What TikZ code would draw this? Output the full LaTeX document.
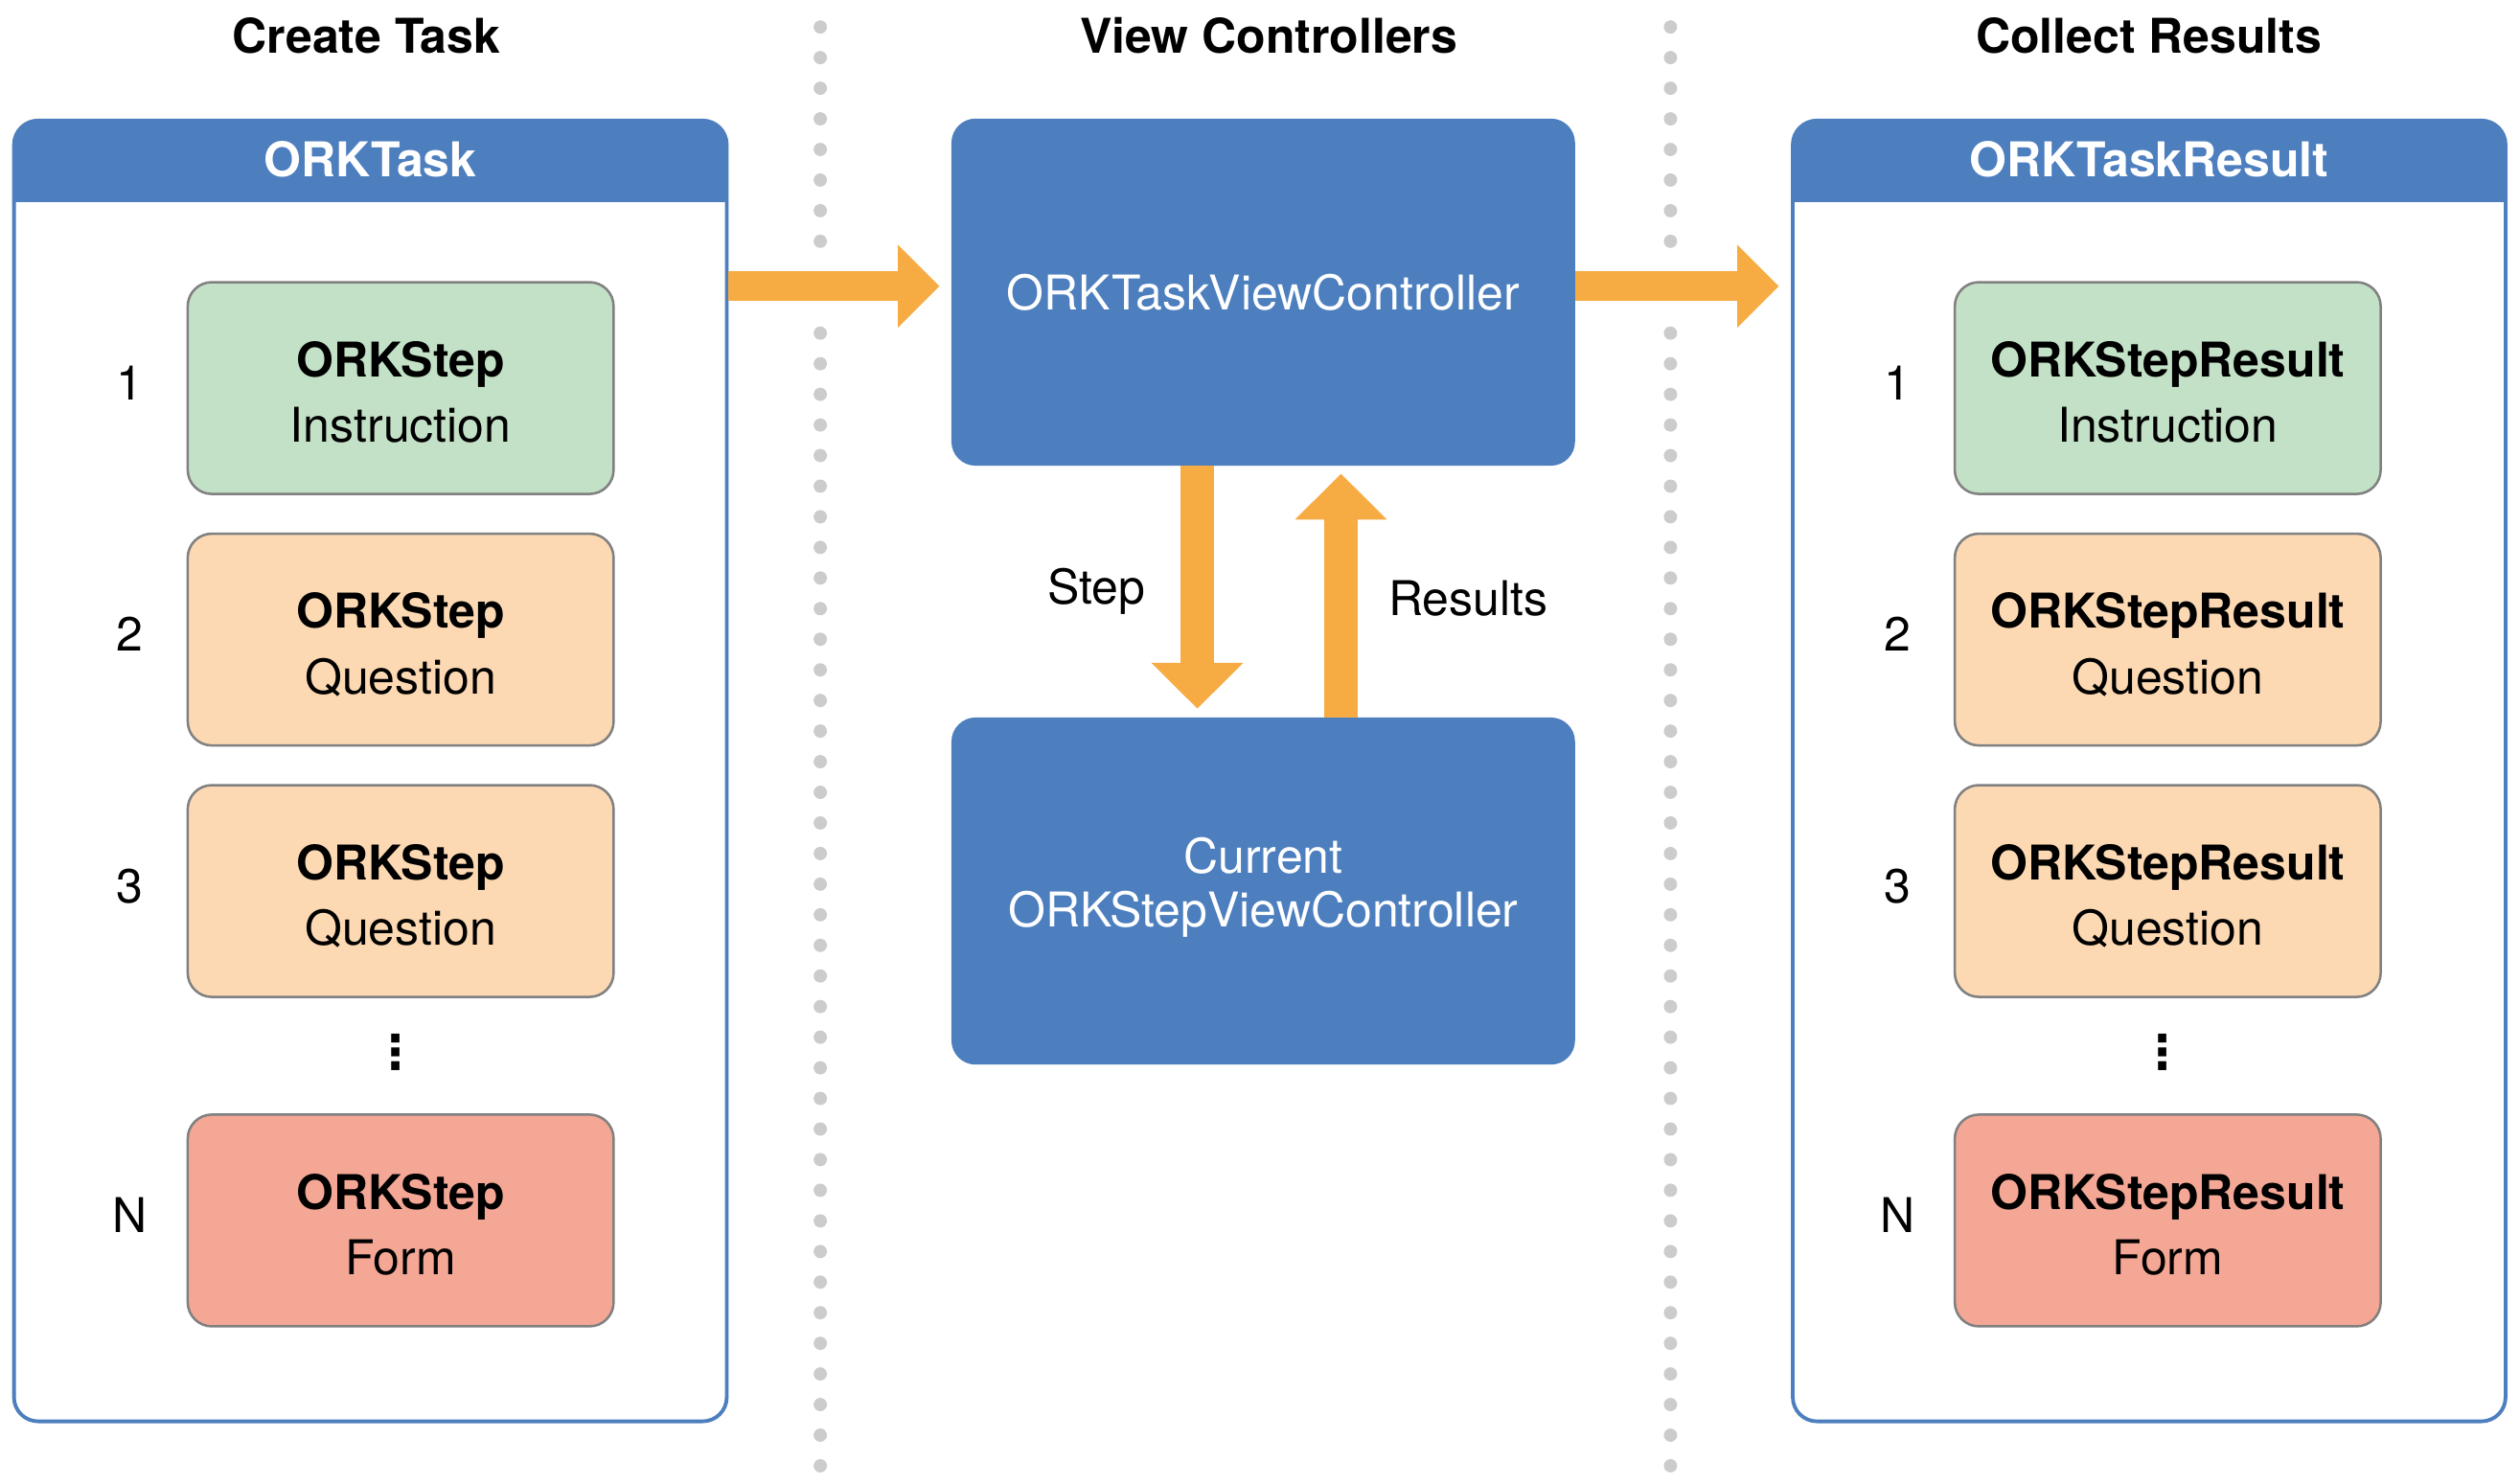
\documentclass[tikz,border=0pt]{standalone}
\usepackage{fontspec}
\setmainfont{TeX Gyre Heros}
\newfontfamily\dejavu{DejaVu Sans}
\usetikzlibrary{arrows.meta,calc}
\definecolor{pblue}{RGB}{77,127,191}
\definecolor{aorange}{RGB}{247,171,67}
\definecolor{sgreen}{RGB}{195,225,199}
\definecolor{speach}{RGB}{252,217,179}
\definecolor{ssalmon}{RGB}{244,167,149}
\definecolor{bgray}{RGB}{128,128,128}
\definecolor{dgray}{RGB}{204,204,204}
\begin{document}
\begin{tikzpicture}[x=1pt,y=-1pt,
  every node/.style={outer sep=0pt, inner sep=0pt},
  panel/.style={draw=pblue, line width=2.3pt, rounded corners=15pt, minimum width=443.5pt, minimum height=809.5pt},
  stepbox/.style={draw=bgray, line width=1.5pt, rounded corners=15pt, minimum width=265pt, minimum height=131.8pt},
  vcbox/.style={fill=pblue, rounded corners=15pt, minimum width=388pt, minimum height=216pt},
  txt/.style={font=\fontsize{29.8}{35}\selectfont, anchor=base},
  btxt/.style={font=\fontsize{29.8}{35}\selectfont\bfseries, anchor=base},
  wtxt/.style={txt, text=white},
  wbtxt/.style={btxt, text=white},
  fatarrow/.style={draw=aorange, line width=18.2pt, -{Triangle[length=25.8pt,width=51.7pt,line width=0pt]}},
  vfatarrow/.style={draw=aorange, line width=20.4pt, -{Triangle[length=28.4pt,width=57.2pt,line width=0pt]}},
  vdots/.style={font=\dejavu\bfseries\fontsize{29.3}{35}\selectfont, anchor=center},
]
\path[fill=white, use as bounding box] (0,0) rectangle (1568,923.5);

% dotted separators
\foreach \k in {0,...,7} {
  \fill[dgray] (510.4,{16.8+19.05*\k}) circle (4.15);
  \fill[dgray] (1039.4,{16.8+19.05*\k}) circle (4.15);
}
\foreach \k in {10,...,47} {
  \fill[dgray] (510.4,{16.8+19.05*\k}) circle (4.15);
  \fill[dgray] (1039.4,{16.8+19.05*\k}) circle (4.15);
}

% column titles
\node[btxt] (t1) at (228,33.3) {Create Task};
\node[btxt] (t2) at (789.5,33.3) {View Controllers};
\node[btxt] (t3) at (1337,33.3) {Collect Results};

\coordinate (hb) at (0,125.8);
\coordinate (ay) at (0,178.1);
\coordinate (sx) at (745,0);
\coordinate (rx) at (834.4,0);

% panels
\node[panel] (task) at (230.45,479.75) {};
\begin{scope}
  \clip[rounded corners=15pt] (task.north west) rectangle (task.south east);
  \fill[pblue] (task.north west) rectangle (task.east |- hb);
\end{scope}
\node[wbtxt] (htask) at (230.45,110.2) {ORKTask};

\node[panel] (result) at (1337.25,479.75) {};
\begin{scope}
  \clip[rounded corners=15pt] (result.north west) rectangle (result.south east);
  \fill[pblue] (result.north west) rectangle (result.east |- hb);
\end{scope}
\node[wbtxt] (hresult) at (1337.25,110.2) {ORKTaskResult};

% left steps
\node[stepbox, fill=sgreen] (s1) at (249.3,241.5) {};
\node[btxt] (s1a) at (249.3,234.6) {ORKStep};
\node[txt] (s1b) at (249.3,275.3) {Instruction};
\node[txt] (n1) at (81,248.8) {1};

\node[stepbox, fill=speach] (s2) at (249.3,398) {};
\node[btxt] (s2a) at (249.3,391.1) {ORKStep};
\node[txt] (s2b) at (249.3,431.8) {Question};
\node[txt] (n2) at (81,405.3) {2};

\node[stepbox, fill=speach] (s3) at (249.3,554.5) {};
\node[btxt] (s3a) at (249.3,547.6) {ORKStep};
\node[txt] (s3b) at (249.3,588.3) {Question};
\node[txt] (n3) at (81,561.8) {3};

\node[vdots] (dl) at (246.4,654.7) {⋮};

\node[stepbox, fill=ssalmon] (s4) at (249.3,759.5) {};
\node[btxt] (s4a) at (249.3,752.6) {ORKStep};
\node[txt] (s4b) at (249.3,793.3) {Form};
\node[txt] (n4) at (81,766.8) {N};

% right results
\node[stepbox, fill=sgreen] (r1) at (1348.8,241.5) {};
\node[btxt] (r1a) at (1348.8,234.6) {ORKStepResult};
\node[txt] (r1b) at (1348.8,275.3) {Instruction};
\node[txt] (m1) at (1180.5,248.8) {1};

\node[stepbox, fill=speach] (r2) at (1348.8,398) {};
\node[btxt] (r2a) at (1348.8,391.1) {ORKStepResult};
\node[txt] (r2b) at (1348.8,431.8) {Question};
\node[txt] (m2) at (1180.5,405.3) {2};

\node[stepbox, fill=speach] (r3) at (1348.8,554.5) {};
\node[btxt] (r3a) at (1348.8,547.6) {ORKStepResult};
\node[txt] (r3b) at (1348.8,588.3) {Question};
\node[txt] (m3) at (1180.5,561.8) {3};

\node[vdots] (dr) at (1345.9,654.7) {⋮};

\node[stepbox, fill=ssalmon] (r4) at (1348.8,759.5) {};
\node[btxt] (r4a) at (1348.8,752.6) {ORKStepResult};
\node[txt] (r4b) at (1348.8,793.3) {Form};
\node[txt] (m4) at (1180.5,766.8) {N};

% view controllers
\node[vcbox] (vc) at (786,181.8) {};
\node[wtxt] (vct) at (786,193) {ORKTaskViewController};
\node[vcbox] (cur) at (786,554.5) {};
\node[wtxt] (cura) at (786,543.3) {Current};
\node[wtxt] (curb) at (786,576.7) {ORKStepViewController};

% arrows
\draw[fatarrow] ($(task.east |- ay)+(1.15,0)$) -- ($(vc.west |- ay)+(-7.5,0)$);
\draw[fatarrow] (vc.east |- ay) -- ($(result.west |- ay)+(-8.8,0)$);
\draw[vfatarrow] (vc.south -| sx) -- ($(cur.north -| sx)+(0,-5.6)$);
\draw[vfatarrow] (cur.north -| rx) -- ($(vc.south -| rx)+(0,5.1)$);

\node[txt] (lstep) at (682,376) {Step};
\node[txt] (lres) at (913.5,383.3) {Results};
\end{tikzpicture}
\end{document}
